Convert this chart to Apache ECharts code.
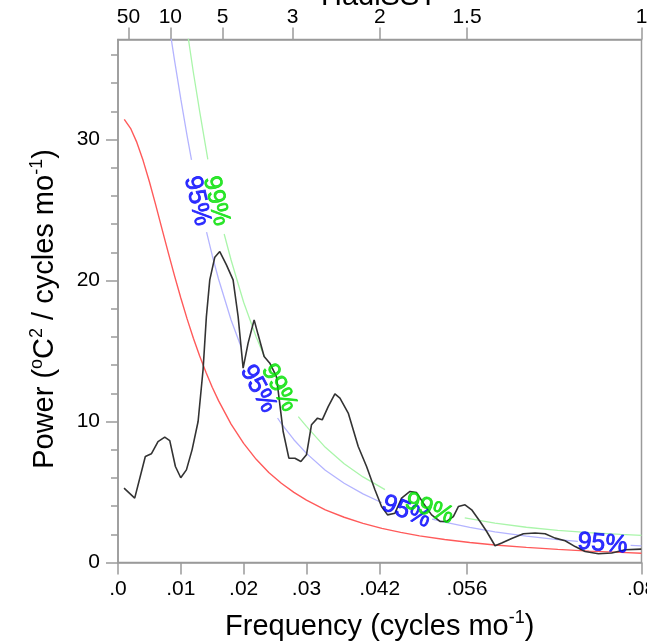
<!DOCTYPE html>
<html><head><meta charset="utf-8">
<script src="https://cdn.jsdelivr.net/npm/echarts@6/dist/echarts.min.js"></script>
<style>html,body{margin:0;padding:0;background:#fff}#c{width:647px;height:642px}</style>
</head><body><div id="c"></div>
<script>
// ---- data ----
const freqTickValues = [0, 0.01, 0.02, 0.03, 1/24, 1/18, 1/12];
const freqTickLabels = ['.0', '.01', '.02', '.03', '.042', '.056', '.08'];
const periodTickValues = [1/600, 1/120, 1/60, 1/36, 1/24, 1/18, 1/12];
const periodTickLabels = ['50', '10', '5', '3', '2', '1.5', '1'];
const powerTicks = [0, 10, 20, 30];
const powerMinorTicks = [2,4,6,8,12,14,16,18,22,24,26,28,32,34,36];

const spectrum = [[0.00096,5.28],[0.00266,4.57],[0.00435,7.52],[0.00531,7.71],[0.00637,8.58],[0.00744,8.89],[0.00824,8.65],[0.00914,6.81],[0.00999,6.01],[0.01089,6.57],[0.01179,7.99],[0.01275,10.0],[0.01354,13.67],[0.01407,17.45],[0.01461,20.05],[0.01541,21.66],[0.01620,22.06],[0.01726,21.11],[0.01832,20.05],[0.01912,17.45],[0.01992,13.79],[0.02071,15.56],[0.02167,17.21],[0.02231,16.15],[0.02326,14.61],[0.02417,14.14],[0.02522,13.19],[0.02629,9.29],[0.02720,7.40],[0.02816,7.40],[0.02911,7.16],[0.03000,7.64],[0.03080,9.77],[0.03176,10.24],[0.03251,10.12],[0.03346,11.06],[0.03453,11.96],[0.03533,11.66],[0.03665,10.6],[0.03824,8.23],[0.03957,6.81],[0.04090,5.16],[0.04195,3.97],[0.04291,3.38],[0.04409,3.50],[0.04514,4.57],[0.04648,5.04],[0.04753,4.96],[0.04860,4.21],[0.04992,3.38],[0.05126,2.91],[0.05231,2.91],[0.05338,3.26],[0.05418,3.97],[0.05524,4.09],[0.05630,3.74],[0.05763,2.91],[0.05869,2.20],[0.06002,1.19],[0.06108,1.38],[0.06267,1.70],[0.06453,2.04],[0.06640,2.09],[0.06799,2.04],[0.06958,1.73],[0.07118,1.54],[0.07277,1.13],[0.07436,0.78],[0.07648,0.62],[0.07860,0.67],[0.08074,0.90],[0.08329,0.95]];

const redNoise = [[0.001,31.43],[0.002,30.80],[0.003,29.80],[0.004,28.51],[0.005,27.01],[0.006,25.37],[0.007,23.67],[0.008,21.98],[0.009,20.33],[0.010,18.76],[0.011,17.28],[0.012,15.91],[0.013,14.65],[0.014,13.49],[0.015,12.43],[0.016,11.48],[0.018,9.82],[0.020,8.45],[0.022,7.32],[0.024,6.39],[0.026,5.62],[0.028,4.97],[0.030,4.42],[0.033,3.74],[0.036,3.21],[0.039,2.78],[0.042,2.42],[0.045,2.14],[0.048,1.89],[0.052,1.63],[0.056,1.42],[0.060,1.24],[0.065,1.07],[0.070,0.93],[0.075,0.81],[0.080,0.72],[0.08333,0.66]];

const conf95 = [[0.008,38.51],[0.009,35.62],[0.010,32.87],[0.011,30.27],[0.0117,28.56],null,[0.0141,23.44],[0.015,21.78],[0.016,20.11],[0.018,17.20],[0.0196,15.28],null,[0.0254,10.25],[0.026,9.85],[0.028,8.71],[0.030,7.74],[0.033,6.55],[0.036,5.62],[0.039,4.87],[0.042,4.24],null,[0.0500,3.08],[0.052,2.86],[0.056,2.49],[0.060,2.17],[0.065,1.87],[0.070,1.62],[0.0732,1.50],null,[0.0816,1.22],[0.08333,1.18]];

const conf99 = [[0.011,37.76],[0.012,34.76],[0.013,32.0],[0.0143,28.6],null,[0.0169,23.3],[0.018,21.46],[0.020,18.46],[0.022,15.99],[0.0234,14.5],null,[0.0287,10.35],[0.030,9.66],[0.033,8.17],[0.036,7.01],[0.039,6.07],[0.0425,5.17],null,[0.0552,3.17],[0.060,2.80],[0.065,2.50],[0.070,2.28],[0.075,2.12],[0.080,1.99],[0.08333,1.92]];

const label95Anchors = [[0.01259,25.65],[0.02231,12.32],[0.04589,3.60],[0.07712,1.33]];
const label99Anchors = [[0.01562,25.65],[0.02565,12.39],[0.04956,3.81]];
const label95Angles = [-77, -62, -22, -5];
const label99Angles = [-77, -62, -20];

// ---- chart ----
const FONT = '"Liberation Sans", Arial, Helvetica, sans-serif';
const AXC = '#9a9a9a';
function lookup(vals, labs) {
  return function (v) {
    for (let i = 0; i < vals.length; i++) if (Math.abs(vals[i] - v) < 1e-9) return labs[i];
    return '';
  };
}
const chart = echarts.init(document.getElementById('c'), null, {renderer: 'canvas'});
const XMAX = 1/12, YMAX = 37.1;

function labelSeries(anchors, angles, text, color) {
  return {
    type: 'scatter', symbolSize: 0, silent: true, z: 10,
    data: anchors.map((p, i) => ({
      value: p,
      label: {rotate: angles[i]}
    })),
    label: {
      show: true, position: 'inside', formatter: text,
      color: color, fontSize: 25, fontFamily: FONT,
      textBorderColor: color, textBorderWidth: 0.8
    }
  };
}
const richName = {
  a: {fontSize: 29, fontFamily: FONT, color: '#000', lineHeight: 34},
  s: {fontSize: 18, fontFamily: FONT, color: '#000', verticalAlign: 'top', lineHeight: 34},
  e: {fontSize: 29, fontFamily: FONT, color: '#000', lineHeight: 34, padding: [0, 16, 0, 0]}
};
const tickLabelStyle = {color: '#000', fontSize: 21, fontFamily: FONT};

chart.setOption({
  animation: false,
  backgroundColor: '#fff',
  grid: {left: 118, right: 5.5, top: 39.5, bottom: 79.5, show: true, borderColor: AXC, borderWidth: 1.5, outerBoundsMode: 'none', containLabel: false},
  graphic: [{
    type: 'text',
    style: {text: 'HadiSST', x: 379, y: 11, align: 'center', verticalAlign: 'bottom', fontSize: 29, fontFamily: FONT, fill: '#000'}
  }],
  xAxis: [{
    type: 'value', min: 0, max: XMAX, position: 'bottom',
    axisLine: {show: true, onZero: false, lineStyle: {color: AXC, width: 1.5}},
    axisTick: {show: true, inside: false, length: 12, customValues: freqTickValues, lineStyle: {color: AXC, width: 1.5}},
    axisLabel: Object.assign({show: true, margin: 16, customValues: freqTickValues, formatter: lookup(freqTickValues, freqTickLabels), showMinLabel: true, showMaxLabel: true, hideOverlap: false}, tickLabelStyle),
    splitLine: {show: false},
    name: '{a|Frequency (cycles mo}{s|-1}{a|)}', nameLocation: 'middle', nameGap: 47,
    nameTextStyle: {rich: richName}
  }, {
    type: 'value', min: 0, max: XMAX, position: 'top',
    axisLine: {show: true, onZero: false, lineStyle: {color: AXC, width: 1.5}},
    axisTick: {show: true, inside: false, length: 12, customValues: periodTickValues, lineStyle: {color: AXC, width: 1.5}},
    axisLabel: Object.assign({show: true, margin: 12, customValues: periodTickValues, formatter: lookup(periodTickValues, periodTickLabels), showMinLabel: true, showMaxLabel: true, hideOverlap: false}, tickLabelStyle),
    splitLine: {show: false}
  }],
  yAxis: [{
    type: 'value', min: 0, max: YMAX, position: 'left',
    axisLine: {show: true, onZero: false, lineStyle: {color: AXC, width: 1.5}},
    axisTick: {show: true, inside: false, length: 12, customValues: powerTicks, lineStyle: {color: AXC, width: 1.5}},
    axisLabel: Object.assign({show: true, margin: 18, customValues: powerTicks}, tickLabelStyle),
    splitLine: {show: false},
    name: '{a|Power (}{s|o}{a|C}{s|2}{a| / cycles mo}{s|-1}{e|)}', nameLocation: 'middle', nameGap: 56, nameRotate: 90,
    nameTextStyle: {rich: richName}
  }, {
    type: 'value', min: 0, max: YMAX, position: 'left',
    axisLine: {show: false},
    axisTick: {show: true, inside: false, length: 7, customValues: powerMinorTicks, lineStyle: {color: AXC, width: 1.5}},
    axisLabel: {show: false},
    splitLine: {show: false}
  }],
  series: [
    {type: 'line', data: redNoise, showSymbol: false, lineStyle: {color: '#ff5a5a', width: 1.4}, silent: true},
    {type: 'line', data: conf95, showSymbol: false, connectNulls: false, lineStyle: {color: '#b4b4ff', width: 1.3}, silent: true},
    {type: 'line', data: conf99, showSymbol: false, connectNulls: false, lineStyle: {color: '#aaf5aa', width: 1.3}, silent: true},
    {type: 'line', data: spectrum, showSymbol: false, lineStyle: {color: '#333', width: 1.6}, silent: true, z: 5},
    labelSeries(label95Anchors, label95Angles, '95%', '#0000ff'),
    labelSeries(label99Anchors, label99Angles, '99%', '#00e000')
  ]
});
</script></body></html>
